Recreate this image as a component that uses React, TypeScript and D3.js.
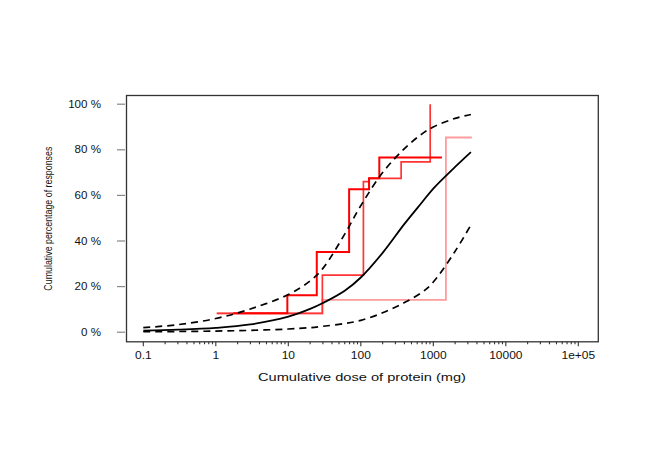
import React, { useEffect, useRef } from 'react';
import * as d3 from 'd3';

// axis ticks
const doseTicks = [0.1, 1, 10, 100, 1000, 10000, 100000];
const doseTickLabels = ['0.1', '1', '10', '100', '1000', '10000', '1e+05'];
const pctTicks = [0, 20, 40, 60, 80, 100];
const pctTickLabels = ['0 %', '20 %', '40 %', '60 %', '80 %', '100 %'];

// fitted dose distribution
const curveDose = [0.1, 0.3, 1, 3, 10, 20, 30, 60, 100, 200, 400, 700, 1000, 2000, 3300];
const fitMid = [0.7, 1.1, 1.9, 3.4, 6.8, 10.2, 12.8, 18.2, 24, 34.8, 47.5, 57, 63, 72.5, 79];
const fitUpper = [2.0, 3.3, 6.0, 10.2, 16.5, 22.5, 28, 43, 55.5, 70, 80.5, 87, 90, 93.8, 95.5];
const fitLower = [0.2, 0.3, 0.5, 0.8, 1.4, 2.0, 2.6, 3.8, 5.2, 8.5, 13, 17.5, 22, 35.5, 47];

// observed cumulative steps
const stepADose = [1.74, 9.7, 24.7, 69, 130, 180, 1315];
const stepAPct = [8.3, 16.2, 35.2, 62.7, 67.5, 76.6, 76.6];
const stepBDose = [1.03, 29.5, 108.6, 130, 360, 906];
const stepBPct = [8.3, 25, 66, 67.5, 74.7, 100];
const stepCDose = [1.03, 29.5, 1493, 3400];
const stepCPct = [8.3, 14.2, 85.4, 85.4];

const W = 655;
const H = 460;
const box = { left: 126.5, right: 598.3, top: 95.5, bottom: 341.8 };
const font = "'Liberation Sans', Arial, Helvetica, sans-serif";

const DoseChart: React.FC = () => {
  const svgRef = useRef<SVGSVGElement>(null);

  useEffect(() => {
    const svg = d3.select(svgRef.current);
    svg.selectAll('*').remove();

    const x = d3.scaleLog().domain([0.1, 100000]).range([143.3, 578.3]);
    const y = d3.scaleLinear().domain([0, 100]).range([332.2, 104.2]);

    const pairs = (xs: number[], ys: number[]) => xs.map((d, i) => [d, ys[i]] as [number, number]);

    const smooth = d3
      .line<[number, number]>()
      .x((d) => x(d[0]))
      .y((d) => y(d[1]))
      .curve(d3.curveCatmullRom.alpha(0.5));

    const step = d3
      .line<[number, number]>()
      .x((d) => x(d[0]))
      .y((d) => y(d[1]))
      .curve(d3.curveStepAfter);

    // steps
    const steps = [
      { xs: stepCDose, ys: stepCPct, color: '#ff9c9c', w: 1.8 },
      { xs: stepBDose, ys: stepBPct, color: '#ff3535', w: 1.7 },
      { xs: stepADose, ys: stepAPct, color: '#ff0000', w: 2 },
    ];
    steps.forEach((s) => {
      svg
        .append('path')
        .attr('d', step(pairs(s.xs, s.ys)))
        .attr('fill', 'none')
        .attr('stroke', s.color)
        .attr('stroke-width', s.w);
    });

    // fitted curve + bounds
    [fitUpper, fitLower].forEach((vals) => {
      svg
        .append('path')
        .attr('d', smooth(pairs(curveDose, vals)))
        .attr('fill', 'none')
        .attr('stroke', '#000')
        .attr('stroke-width', 1.7)
        .attr('stroke-dasharray', '7,5');
    });
    svg
      .append('path')
      .attr('d', smooth(pairs(curveDose, fitMid)))
      .attr('fill', 'none')
      .attr('stroke', '#000')
      .attr('stroke-width', 1.8);

    // frame
    svg
      .append('rect')
      .attr('x', box.left)
      .attr('y', box.top)
      .attr('width', box.right - box.left)
      .attr('height', box.bottom - box.top)
      .attr('fill', 'none')
      .attr('stroke', '#333')
      .attr('stroke-width', 1.3);

    // x axis ticks
    x.ticks().forEach((t) => {
      const major = doseTicks.some((m) => Math.abs(m - t) / m < 1e-6);
      svg
        .append('line')
        .attr('x1', x(t))
        .attr('x2', x(t))
        .attr('y1', box.bottom)
        .attr('y2', box.bottom + (major ? 4.5 : 2.5))
        .attr('stroke', '#333')
        .attr('stroke-width', 1.1);
    });
    doseTicks.forEach((t, i) => {
      svg
        .append('text')
        .attr('transform', `translate(${x(t)},359) scale(1.2,1)`)
        .attr('text-anchor', 'middle')
        .attr('font-family', font)
        .attr('font-size', 10)
        .attr('fill', '#111')
        .text(doseTickLabels[i]);
    });

    // y axis ticks
    pctTicks.forEach((t, i) => {
      svg
        .append('line')
        .attr('x1', 117)
        .attr('x2', 125)
        .attr('y1', y(t))
        .attr('y2', y(t))
        .attr('stroke', '#888')
        .attr('stroke-width', 1.2);
      svg
        .append('text')
        .attr('transform', `translate(101,${y(t) + 3.6}) scale(1.16,1)`)
        .attr('text-anchor', 'end')
        .attr('font-family', font)
        .attr('font-size', 10)
        .attr('fill', '#111')
        .text(pctTickLabels[i]);
    });

    // axis titles
    svg
      .append('text')
      .attr('x', 362)
      .attr('y', 381)
      .attr('text-anchor', 'middle')
      .attr('font-family', font)
      .attr('font-size', 10.5)
      .attr('textLength', 208)
      .attr('lengthAdjust', 'spacingAndGlyphs')
      .attr('fill', '#111')
      .text('Cumulative dose of protein (mg)');

    svg
      .append('text')
      .attr('transform', `translate(52,${(box.top + box.bottom) / 2}) rotate(-90)`)
      .attr('text-anchor', 'middle')
      .attr('font-family', font)
      .attr('font-size', 10.5)
      .attr('textLength', 144)
      .attr('lengthAdjust', 'spacingAndGlyphs')
      .attr('fill', '#111')
      .text('Cumulative percentage of responses');
  }, []);

  return (
    <svg
      ref={svgRef}
      width={W}
      height={H}
      style={{ position: 'absolute', left: 0, top: 0, background: '#fff' }}
    />
  );
};

export default function App() {
  return <DoseChart />;
}
